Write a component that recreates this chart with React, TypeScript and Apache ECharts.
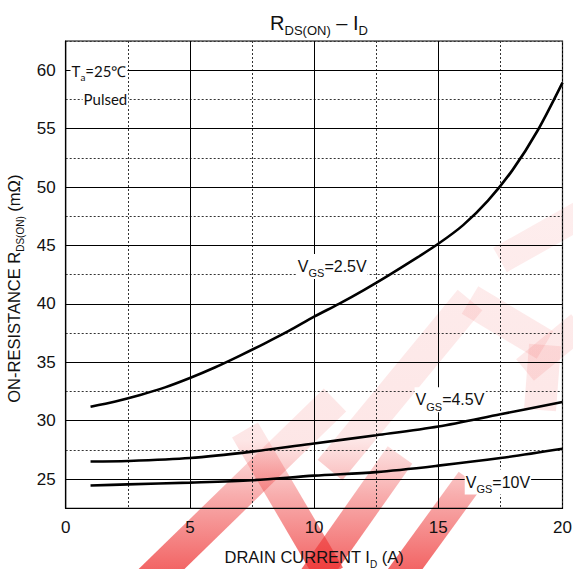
import React, { useEffect, useRef } from 'react';
import * as echarts from 'echarts';

// ---- data ----
const xTickValues = [0, 5, 10, 15, 20];
const yTickValues = [25, 30, 35, 40, 45, 50, 55, 60];
const majorX = [5, 10, 15];
const vgs25: number[][] = [
  [1, 31.2], [2, 31.65], [3, 32.2], [4, 32.85], [5, 33.65], [6, 34.55], [7, 35.55],
  [8, 36.6], [9, 37.7], [10, 38.9], [11, 40.0], [12, 41.18], [13, 42.44], [14, 43.76],
  [15, 45.14], [16, 46.74], [17, 48.84], [18, 51.49], [19, 54.84], [20, 58.94],
];
const vgs45: number[][] = [
  [1, 26.5], [2.5, 26.55], [5, 26.8], [7.5, 27.35], [10, 28.05], [12.5, 28.75],
  [15, 29.5], [17.5, 30.55], [20, 31.6],
];
const vgs10: number[][] = [
  [1, 24.45], [2.5, 24.55], [5, 24.7], [7.5, 24.9], [10, 25.3], [12.5, 25.6],
  [15, 26.15], [17.5, 26.8], [20, 27.6],
];
const curveLabelTexts = [
  ['GS', '=2.5V'],
  ['GS', '=4.5V'],
  ['GS', '=10V'],
];
const curveLabelAnchors = [[10.73, 43.2], [15.47, 31.8], [17.4, 24.75]];

const FONT = '"Liberation Sans", Arial, sans-serif';

const App: React.FC = () => {
  const ref = useRef<HTMLDivElement>(null);
  useEffect(() => {
    if (!ref.current) return;
    const chart = echarts.init(ref.current, undefined, { renderer: 'svg' });
    const subRich = {
      n: { fontSize: 16, fontFamily: FONT, color: '#111' },
      s: { fontSize: 11, fontFamily: FONT, color: '#111', padding: [14, 0, 0, 0] },
    };
    const labelPoints = curveLabelTexts.map((t, i) => ({
      coord: curveLabelAnchors[i],
      symbol: 'rect',
      symbolSize: 1,
      itemStyle: { color: 'rgba(0,0,0,0)' },
      label: {
        show: true,
        position: 'inside',
        formatter: `{n|V}{s|${t[0]}}{n|${t[1]}}`,
        rich: subRich,
        backgroundColor: '#fff',
        padding: [0, 1, 0, 1],
      },
    }));
    const noteRich = {
      n: { fontSize: 15, fontFamily: 'Lato, "Open Sans", sans-serif', color: '#111' },
      s: { fontSize: 10, fontFamily: 'Lato, "Open Sans", sans-serif', color: '#111', padding: [11, 0, 0, 0] },
    };
    const wmFill = new echarts.graphic.LinearGradient(0, 569, 0, 200, [
      { offset: 0, color: 'rgba(238,50,50,0.75)' },
      { offset: 0.2, color: 'rgba(238,60,60,0.42)' },
      { offset: 0.35, color: 'rgba(240,80,80,0.14)' },
      { offset: 1, color: 'rgba(240,80,80,0.1)' },
    ], true);
    const band = (x1: number, y1: number, x2: number, y2: number, w: number) => {
      const dx = x2 - x1, dy = y2 - y1;
      const len = Math.sqrt(dx * dx + dy * dy);
      const nx = (-dy / len) * (w / 2), ny = (dx / len) * (w / 2);
      return {
        type: 'polygon', silent: true, z: -10,
        shape: { points: [[x1 + nx, y1 + ny], [x2 + nx, y2 + ny], [x2 - nx, y2 - ny], [x1 - nx, y1 - ny]] },
        style: { fill: wmFill },
      };
    };
    chart.setOption({
      animation: false,
      backgroundColor: '#fff',
      title: {
        text: '{r|R}{s|DS(ON)}{r| – I}{s|D}',
        left: 314,
        textAlign: 'center',
        top: 4,
        textStyle: {
          fontWeight: 'normal',
          rich: {
            r: { fontSize: 20, fontFamily: FONT, color: '#111', fontWeight: 'normal' },
            s: { fontSize: 13, fontFamily: FONT, color: '#111', fontWeight: 'normal', padding: [15, 0, 0, 0] },
          },
        },
      },
      graphic: [
        band(140, 590, 335, 400, 32),
        band(245, 430, 330, 575, 30),
        band(305, 590, 400, 455, 30),
        band(390, 590, 470, 480, 28),
        band(330, 470, 470, 300, 32),
        band(470, 300, 545, 345, 32),
        band(545, 345, 540, 410, 32),
        band(500, 260, 580, 215, 28),
        band(525, 370, 580, 325, 28),
      ],
      grid: {
        left: 65.7, right: 10.5, top: 41, bottom: 60.7,
        outerBoundsMode: 'none',
        containLabel: false,
        show: true, borderColor: '#000', borderWidth: 1.2, backgroundColor: 'transparent',
      },
      xAxis: {
        type: 'value', min: 0, max: 20, interval: 2.5,
        name: '{n|DRAIN CURRENT I}{s|D}{n| (A)}',
        nameLocation: 'middle', nameGap: 37,
        nameTextStyle: {
          rich: {
            n: { fontSize: 16.5, fontFamily: FONT, color: '#111' },
            s: { fontSize: 10, fontFamily: FONT, color: '#111', padding: [14, 0, 0, 0] },
          },
        },
        axisLine: { show: true, lineStyle: { color: '#000', width: 1.2 } },
        axisTick: { show: false },
        axisLabel: {
          fontSize: 17, fontFamily: FONT, color: '#111', margin: 11,
          formatter: (v: number) => (xTickValues.includes(v) ? String(v) : ''),
        },
        splitLine: { show: true, lineStyle: { color: '#333', width: 1, type: [2, 2] } },
      },
      yAxis: {
        type: 'value', min: 22.5, max: 62.5, interval: 2.5,
        name: '{n|ON-RESISTANCE R}{s|DS(ON)}{n| (mΩ)}',
        nameLocation: 'middle', nameGap: 40,
        nameTextStyle: {
          padding: [0, 28, 0, 0],
          rich: {
            n: { fontSize: 16.5, fontFamily: FONT, color: '#111' },
            s: { fontSize: 10, fontFamily: FONT, color: '#111', padding: [13, 0, 0, 0] },
          },
        },
        axisLine: { show: true, lineStyle: { color: '#000', width: 1.2 } },
        axisTick: { show: false },
        axisLabel: {
          fontSize: 17, fontFamily: FONT, color: '#111', margin: 10,
          formatter: (v: number) => (yTickValues.includes(v) ? String(v) : ''),
        },
        splitLine: { show: true, lineStyle: { color: '#333', width: 1, type: [2, 2] } },
      },
      series: [
        {
          type: 'line', data: [], z: 1, silent: true,
          markLine: {
            symbol: 'none', silent: true, label: { show: false },
            lineStyle: { color: '#000', width: 1, type: 'solid' },
            data: [
              ...yTickValues.map((v) => ({ yAxis: v })),
              ...majorX.map((v) => ({ xAxis: v })),
            ],
          },
        },
        ...[vgs25, vgs45, vgs10].map((d) => ({
          type: 'line', data: d, smooth: 0.3, showSymbol: false, z: 3,
          lineStyle: { color: '#000', width: 2.6 },
        })),
        {
          type: 'line', data: [], z: 5, silent: true,
          markPoint: {
            silent: true,
            data: [
              ...labelPoints,
              {
                coord: [1.34, 59.9], symbol: 'rect', symbolSize: 1, itemStyle: { color: 'rgba(0,0,0,0)' },
                label: {
                  show: true, position: 'inside', formatter: '{n|T}{s|a}{n|=25℃}', rich: noteRich,
                  backgroundColor: '#fff', padding: [0, 1, 0, 1],
                },
              },
              {
                coord: [1.6, 57.5], symbol: 'rect', symbolSize: 1, itemStyle: { color: 'rgba(0,0,0,0)' },
                label: {
                  show: true, position: 'inside', formatter: '{n|Pulsed}', rich: noteRich,
                  backgroundColor: '#fff', padding: [0, 1, 0, 1],
                },
              },
            ],
          },
        },
      ],
    });
    return () => chart.dispose();
  }, []);
  return <div ref={ref} style={{ width: 573, height: 569, position: 'absolute', left: 0, top: 0 }} />;
};

export default App;
